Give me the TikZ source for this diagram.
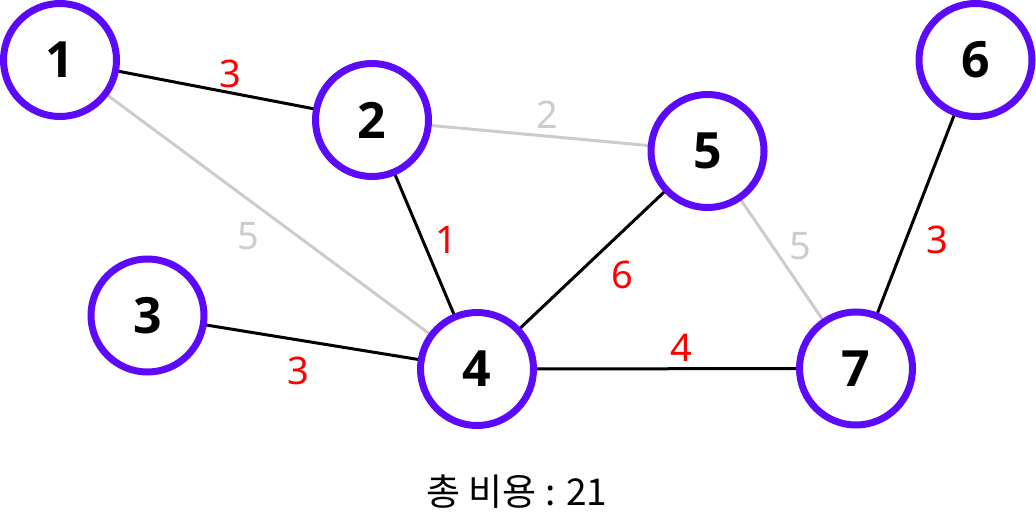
\documentclass[tikz,border=0pt]{standalone}
\usepackage{fontspec}
\setmainfont{Noto Sans}
\newfontfamily\krfont{Noto Sans CJK KR}
\newfontfamily\vfont{Open Sans}
\definecolor{nodepurple}{RGB}{91,10,250}
\definecolor{edgegray}{RGB}{204,204,204}
\definecolor{labred}{RGB}{255,0,0}
\begin{document}
\begin{tikzpicture}[x=1pt,y=-1pt,
  vert/.style={circle,draw=nodepurple,fill=white,line width=7pt,minimum size=113pt,inner sep=0pt,
    font=\vfont\fontsize{50}{52}\selectfont\bfseries},
  used/.style={draw=black,line width=3pt},
  unused/.style={draw=edgegray,line width=3pt},
  redlab/.style={text=labred,inner sep=0pt,font=\fontsize{38}{40}\selectfont},
  graylab/.style={text=edgegray,inner sep=0pt,font=\fontsize{38}{40}\selectfont}]
\useasboundingbox (0,0) rectangle (1036,516);
% vertex positions
\coordinate (p1) at (60,60);
\coordinate (p2) at (372,120);
\coordinate (p3) at (147.5,315.5);
\coordinate (p4) at (477,369);
\coordinate (p5) at (707.5,151);
\coordinate (p6) at (975.5,60);
\coordinate (p7) at (856,368.5);
% edges
\draw[unused] (p1) -- (p4);
\draw[unused] (p2) -- (p5);
\draw[unused] (p5) -- (p7);
\draw[used] (p1) -- (p2);
\draw[used] (p2) -- (p4);
\draw[used] (p3) -- (p4);
\draw[used] (p4) -- (p5);
\draw[used] (p4) -- (p7);
\draw[used] (p6) -- (p7);
% vertices
\node[vert] (n1) at (p1) {1};
\node[vert] (n2) at (p2) {2};
\node[vert] (n3) at (p3) {3};
\node[vert] (n4) at (p4) {4};
\node[vert] (n5) at (p5) {5};
\node[vert] (n6) at (p6) {6};
\node[vert] (n7) at (p7) {7};
% weights
\node[redlab] (w12) at (230,74) {3};
\node[graylab] (w25) at (547,115) {2};
\node[graylab] (w14) at (248,236) {5};
\node[redlab] (w24) at (446,240) {1};
\node[redlab] (w45) at (622,275) {6};
\node[graylab] (w57) at (800,246) {5};
\node[redlab] (w67) at (937,240) {3};
\node[redlab] (w34) at (298,371) {3};
\node[redlab] (w47) at (681,348) {4};
% total
\node[inner sep=0pt,font=\krfont\fontsize{37}{40}\selectfont] (total) at (517,492) {총 비용 : 21};
\end{tikzpicture}
\end{document}
